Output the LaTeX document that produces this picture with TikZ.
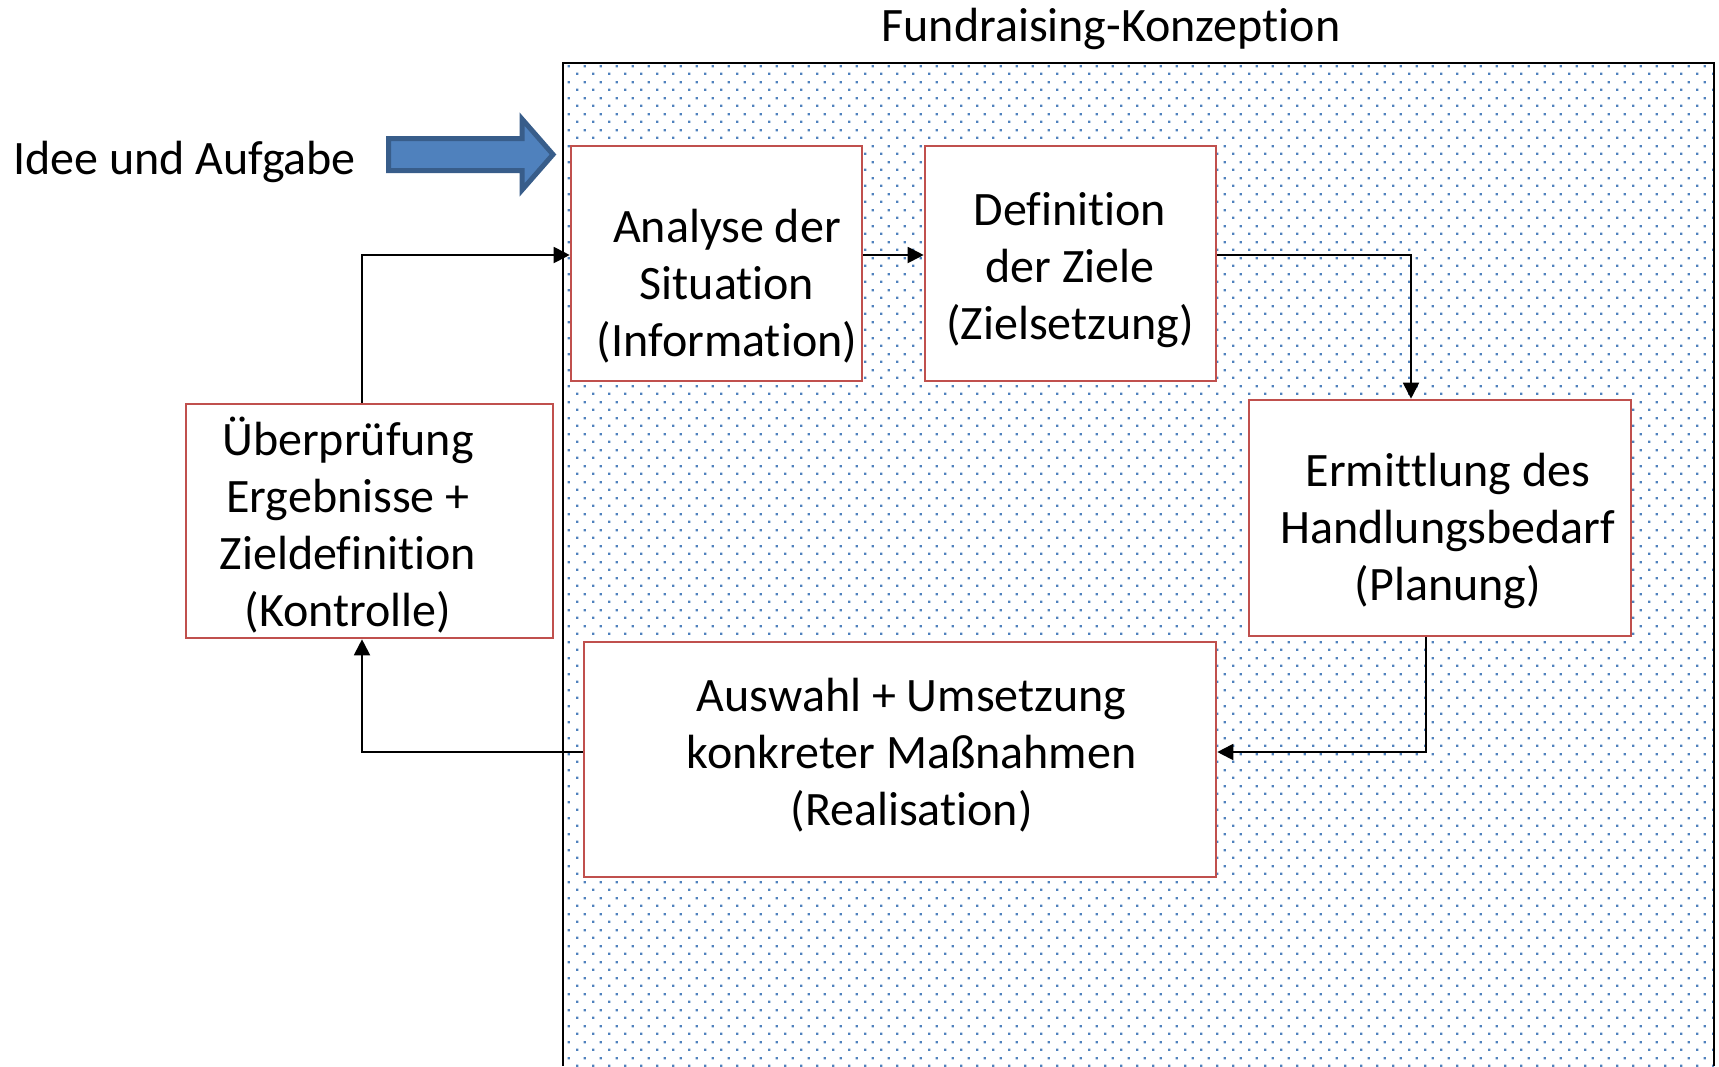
\documentclass[tikz,border=0pt]{standalone}
\usepackage{fontspec}
\setmainfont{Carlito}[Ligatures=NoCommon]
\usetikzlibrary{arrows.meta,patterns.meta,fit}
\definecolor{boxred}{HTML}{C0504D}
\definecolor{dotblue}{HTML}{4F81BD}
\definecolor{arrowfill}{HTML}{4F81BD}
\definecolor{arrowedge}{HTML}{385D8A}
\newcommand\nbk{\kern0pt }
\tikzdeclarepattern{
  name=officedots,
  type=colored,
  bounding box={(0pt,0pt) and (8pt,8pt)},
  tile size={(8pt,8pt)},
  code={
    \fill[dotblue] (0pt,0pt) rectangle (1.3pt,1.3pt);
    \fill[dotblue] (4pt,4pt) rectangle (5.3pt,5.3pt);
  }
}
\newcommand\bodyfont{\fontsize{24}{28.5}\selectfont}
\newcommand\titlefont{\fontsize{24}{28.5}\selectfont}
\tikzset{
  stepbox/.style={draw=boxred, line width=1.3pt, fill=white, inner sep=0pt},
  txt/.style={align=center, inner sep=0pt, font=\bodyfont},
  conn/.style={draw=black, line width=0.95pt, -{Triangle[length=8pt,width=8pt]}},
  frameline/.style={draw=black, line width=1pt},
}
\begin{document}
\begin{tikzpicture}[x=0.5pt,y=-0.5pt]
\useasboundingbox (0,0) rectangle (1719,1066);
\fill[white] (0,0) rectangle (1719,1066);
% frame with dotted background
\fill[pattern=officedots] (563,63) rectangle (1714,1066);
\draw[frameline] (563,1066) -- (563,63) -- (1714,63) -- (1714,1066);
% title
\node[anchor=base, font=\titlefont, inner sep=0pt] (title) at (1111,41) {Fundraising-Konzept\nbk ion};
% input
\node[anchor=base west, font=\bodyfont, inner sep=0pt] (idee) at (13,174) {Idee und Aufgabe};
\draw[fill=arrowfill, draw=arrowedge, line width=2.5pt, line join=miter]
  (388.5,138.5) -- (522,138.5) -- (522,119) -- (553,154.5) -- (522,190) -- (522,170.5) -- (388.5,170.5) -- cycle;
% boxes
\node[stepbox, fit={(571,146) (862,381)}] (A) {};
\node[stepbox, fit={(925,146) (1216,381)}] (D) {};
\node[stepbox, fit={(1249,400) (1631,636)}] (E) {};
\node[stepbox, fit={(584,642) (1216,877)}] (R) {};
\node[stepbox, fit={(186,404) (553,638)}] (K) {};
% texts
\node[txt] (tA) at (727,287.6) {\strut Analyse der\\\strut Situat\nbk ion\\\strut (Informat\nbk ion)};
\node[txt] (tD) at (1070,270.6) {\strut Def\nbk init\nbk ion\\\strut der Ziele\\\strut (Zielsetzung)};
\node[txt] (tE) at (1448,532) {\strut Ermit\nbk t\nbk lung des\\\strut Handlungsbedarf\\\strut (Planung)};
\node[txt] (tR) at (911.6,757) {\strut Auswahl + Umsetzung\\\strut konkreter Maßnahmen\\\strut (Realisat\nbk ion)};
\node[txt] (tK) at (348,530) {\strut Überprüfung\\\strut Ergebnisse +\\\strut Zieldef\nbk init\nbk ion\\\strut (Kontrolle)};
% routing coordinates
\coordinate (r1) at (0,255);
\coordinate (r2) at (0,752);
\coordinate (c2) at (1411,0);
\coordinate (c3) at (1426,0);
\coordinate (c4) at (362,0);
% connectors
\draw[conn] (A.east |- r1) -- (D.west |- r1);
\draw[conn] (D.east |- r1) -| (E.north -| c2);
\draw[conn] (E.south -| c3) |- (R.east |- r2);
\draw[conn] (R.west |- r2) -| (K.south -| c4);
\draw[conn] (K.north -| c4) |- (A.west |- r1);
\end{tikzpicture}
\end{document}
